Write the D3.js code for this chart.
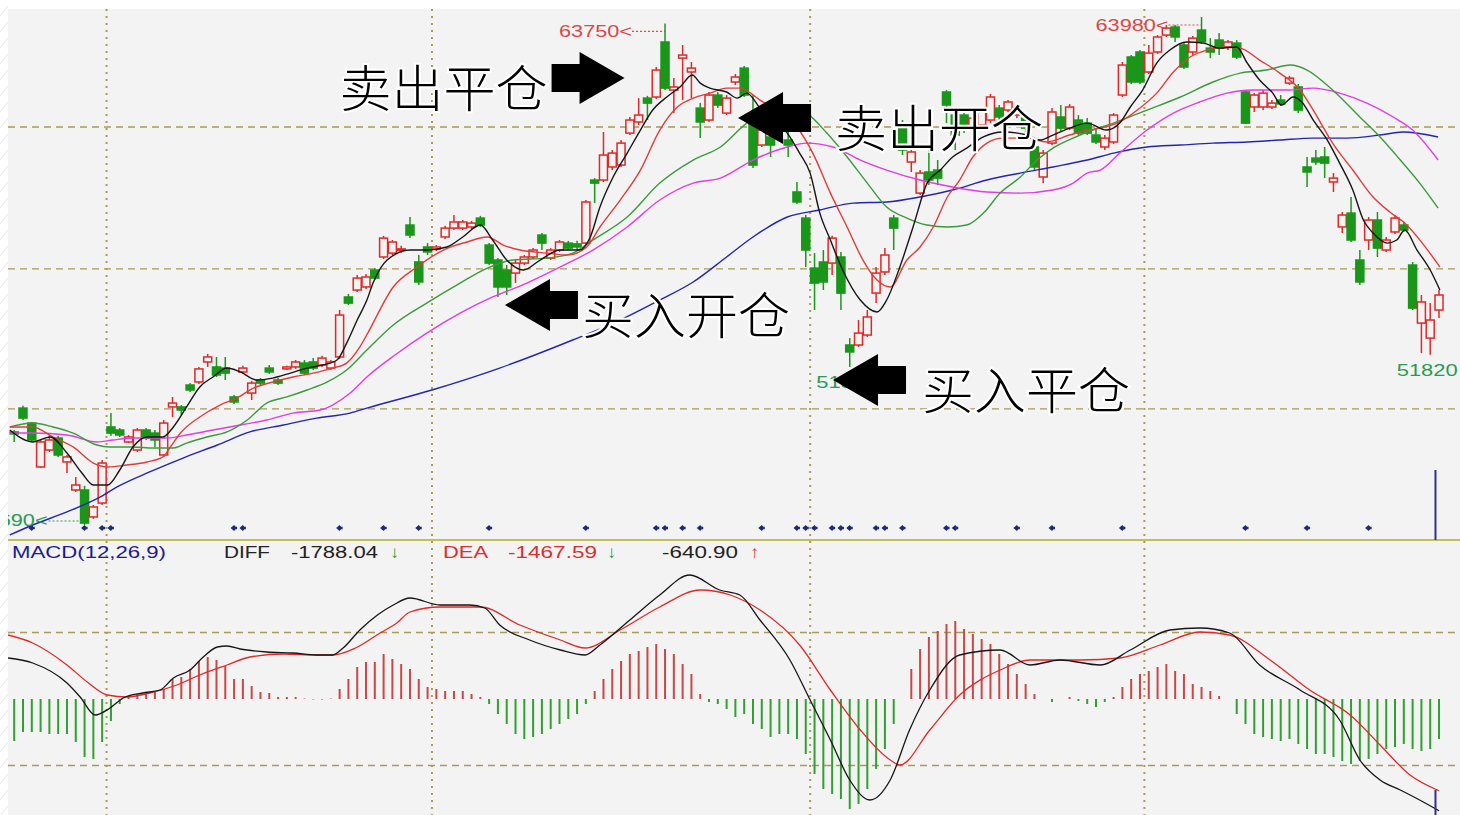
<!DOCTYPE html>
<html><head><meta charset="utf-8">
<script src="https://cdn.jsdelivr.net/npm/d3@7/dist/d3.min.js"></script>
<style>html,body{margin:0;padding:0;background:#fff;overflow:hidden}svg{display:block}</style>
</head><body>
<svg id="c" width="1460" height="815"></svg>
<script>
// ---------------- DATA ----------------
const open = [
49040,49900,49360,47780,48390,48820,47960,46950,46950,45980,
46480,49220,49110,48680,48390,49110,49000,48210,49940,49940,
50730,50840,51560,51380,51340,50300,51200,50440,50910,51340,
50910,51310,51380,51520,51560,51450,51340,51740,53900,54150,
54260,54870,55340,55480,55590,56490,55160,55700,55630,56060,
56380,56380,56420,56740,55770,55230,54870,54760,55120,55340,
56130,55300,55590,55840,55810,55840,58110,58110,58580,58650,
59800,60200,61060,61100,63080,61350,62500,62000,60700,60270,
61170,60520,61640,62140,60450,59370,59660,60270,59550,57680,
56740,54940,55160,55120,55340,52170,52170,52530,54040,54800,
56740,59980,58760,57640,58400,58470,61280,60450,60450,59910,
60090,60270,60700,60630,60450,60340,59300,58220,59440,60380,
59980,60270,60160,59730,59300,59480,61170,62540,62720,62000,
62720,63330,63620,62970,62720,63510,62860,63150,62900,63040,
61280,60740,60740,60740,60990,61600,61460,58580,58900,58940,
58040,56420,56920,55230,55950,56670,55590,56240,56490,55050,
52960,52420,53430];
const close = [
48970,49540,48750,48680,48750,48210,48140,47130,45760,46340,
47920,49000,48930,48860,49110,48820,48750,49360,50080,49830,
50550,51310,51740,51090,51160,50120,51340,50800,50800,51200,
50800,51380,51560,51160,51340,51700,51560,53250,53680,54580,
54620,54580,56020,55880,55630,56130,54440,55520,55700,56380,
56600,56600,56560,56490,55120,54260,54260,55120,55340,55590,
55840,55590,55880,55660,55700,57320,58000,59010,59080,59440,
60270,60450,60880,62070,61420,61460,62610,62140,60200,61170,
60810,61060,61820,61170,58650,59910,59370,59980,59370,57320,
55590,54400,54440,56020,54040,51920,52600,53180,54760,55410,
56380,59190,59120,58360,58110,58180,60810,59730,59910,60340,
60560,61100,60380,60920,60700,59980,58580,59080,60560,59980,
60740,59800,59800,59480,59620,60450,62250,61640,61640,62680,
63260,63580,63260,62180,63220,63080,62720,62860,63080,62540,
60160,61170,61240,60880,60850,61780,60630,58400,58760,58720,
58180,56850,55950,54440,56670,55660,55950,56740,56310,53500,
53720,53070,53970];
const high = [
49110,49980,49400,48750,48930,48900,48210,47420,47100,46410,
48030,49720,49180,48930,49180,49180,49110,49470,50300,50010,
50800,51380,51850,51740,51740,50370,51420,50880,50980,51450,
50980,51420,51630,51630,51700,51780,51630,53430,54010,54690,
54730,54940,56100,55950,55740,56780,55410,55840,55770,56460,
56850,56670,56640,56820,55840,55300,55050,55230,55410,55660,
56200,55660,55950,55920,55920,57390,58180,59840,59190,59550,
60380,61060,61140,62180,63750,61780,62970,62360,60880,61280,
61280,61170,61930,62220,61170,59980,59730,60450,59910,58040,
56850,55480,55590,56100,55520,52420,53070,53430,54980,55660,
56850,60270,59190,58470,59190,58830,61350,60630,60560,60560,
60700,61210,60810,60990,60810,60450,59370,59190,60700,60810,
60850,60450,60340,59980,59730,60520,62360,62610,62790,62970,
63330,63690,63690,63040,63300,63980,63220,63400,63150,63150,
61350,61240,61350,60990,61170,61860,61570,58940,59190,59300,
58360,56960,57500,55590,56780,56960,56060,56850,56600,55160,
53970,53680,54150];
const low = [
48680,49470,48680,47740,48320,48140,47560,46880,45690,45910,
46410,48900,48860,48640,48320,48750,48500,48140,49580,49650,
50480,50770,51380,51020,50910,50050,51130,50190,50730,51130,
50730,51270,51310,51090,51270,51380,51270,51670,53610,54080,
54190,54510,55270,55410,55480,56020,54330,55410,55560,55990,
56310,56310,56350,56420,55050,53900,53970,54400,55050,55270,
55590,55230,55520,55590,55590,55770,57280,58040,58470,58580,
59730,60090,60270,61030,61350,60520,60990,61060,59620,60200,
60700,60450,61530,61100,58540,59300,58940,59840,58940,57250,
54980,53430,54150,54690,53430,51380,52100,52460,53680,54690,
55590,59010,58400,57570,57930,57930,60160,59190,59800,59730,
59980,60160,60270,60560,60340,59840,58470,58000,59370,59840,
59910,59730,59730,59410,59190,59410,61100,61570,61570,61930,
62650,63260,63080,62110,62610,63010,62500,62610,62790,62470,
60130,60560,60630,60670,60780,61530,60520,57860,58650,58180,
57680,56200,55880,54330,55590,55340,55520,56170,56240,53430,
51880,51820,53140];

// moving-average lines: [candle index, price]
const ma5 = [[-0.5,49110],[2.1,48680],[4.1,48860],[6.0,48280],[7.7,47560],[9.0,47130],[10.6,47130],[12.0,47670],[13.5,48500],[15.1,48860],[16.9,48860],[18.1,49220],[19.6,49940],[21.1,50660],[22.6,51020],[24.2,51340],[25.7,51200],[27.6,50910],[29.4,50980],[31.4,51160],[33.3,51340],[35.1,51450],[36.7,51630],[37.8,52240],[39.0,53070],[40.1,53790],[40.8,54400],[42.4,55230],[45.0,55590],[46.9,55590],[49.2,55700],[51.0,56060],[53.0,56490],[54.4,55950],[56.0,55230],[57.9,54870],[59.8,55230],[62.1,55590],[64.3,55590],[65.5,56060],[66.6,57140],[68.1,58220],[69.7,59080],[71.2,59910],[72.6,60630],[74.2,61100],[75.7,61460],[77.1,61890],[78.0,61600],[79.1,61420],[81.0,61280],[82.2,61060],[83.3,61240],[84.8,60700],[87.9,59800],[89.3,59080],[90.5,58360],[91.6,56920],[92.8,55950],[94.2,54870],[96.2,53790],[98.1,53360],[99.2,53790],[100.7,54980],[102.2,56420],[103.8,58000],[105.3,58470],[106.7,58940],[108.3,59260],[110.2,59660],[112.4,59840],[115.2,59730],[116.6,59550],[118.1,59730],[120.0,59980],[122.0,60160],[124.2,59910],[125.7,60160],[126.9,60740],[128.3,61350],[129.9,62320],[131.4,62790],[133.3,63080],[135.2,63040],[137.1,62860],[139.0,62900],[140.2,62320],[141.6,61710],[143.1,61240],[144.1,60810],[145.4,61100],[146.4,60920],[147.7,60270],[149.3,59550],[150.7,58720],[152.2,57750],[153.4,56670],[154.5,56200],[156.1,55840],[157.2,55950],[158.1,56310],[159.5,55590],[161.0,54870],[162.1,54150]];
const ma10 = [[-0.5,49220],[2.1,49220],[4.4,48860],[6.7,48500],[9.0,47920],[10.6,47780],[12.8,47850],[15.1,47960],[16.9,48140],[17.7,48470],[18.9,49000],[21.1,49580],[23.4,50010],[25.3,50260],[27.2,50620],[29.4,50840],[31.7,51020],[34.0,51160],[36.2,51340],[37.8,51520],[39.3,52100],[40.2,52600],[43.1,54260],[45.8,54980],[48.8,55590],[51.5,55880],[53.8,56060],[55.6,55770],[57.5,55590],[60.6,55480],[62.9,55410],[65.1,55700],[66.6,56420],[68.9,57390],[71.2,58470],[73.4,59910],[75.4,60740],[77.2,61060],[79.1,61240],[81.0,61420],[82.5,61420],[84.8,60990],[89.0,60020],[90.8,59080],[92.8,57640],[94.7,56420],[96.5,55230],[98.1,54510],[99.6,54260],[101.5,55230],[103.0,55700],[104.5,56420],[106.1,57500],[107.5,58110],[109.0,58940],[110.6,59440],[112.4,59620],[115.2,59620],[117.4,59480],[120.0,59730],[122.0,59910],[123.5,59980],[125.7,60200],[127.7,60630],[129.9,61240],[131.8,62000],[133.7,62540],[135.6,62790],[137.9,62900],[139.4,62860],[141.6,62430],[143.9,61960],[146.2,61350],[147.7,60630],[149.9,59440],[152.2,58470],[154.5,57500],[156.4,56960],[158.1,56560],[160.1,55840],[162.1,54980]];
const ma20 = [[-0.5,49220],[2.1,49360],[4.4,49220],[6.7,49000],[9.4,48570],[10.9,48500],[13.5,48500],[15.8,48460],[18.1,48460],[19.6,48640],[21.9,48860],[24.2,49040],[26.5,49470],[28.7,50080],[31.0,50300],[33.3,50550],[35.6,50840],[37.8,51270],[40.1,51990],[43.1,52890],[46.9,53680],[50.7,54400],[53.8,54940],[56.7,55230],[60.6,55300],[63.5,55480],[65.8,55950],[69.7,56780],[73.4,58000],[77.2,58830],[80.3,59300],[83.3,60160],[87.9,60740],[90.1,60520],[92.4,59800],[94.7,58940],[97.0,58000],[99.2,57140],[101.5,56740],[103.8,56490],[106.1,56420],[108.3,56490],[110.2,56920],[112.1,57640],[114.4,58220],[116.3,58830],[118.1,59260],[120.4,59620],[122.0,59840],[125.0,60160],[128.8,60630],[132.6,61100],[136.3,61640],[139.4,61960],[142.4,62070],[145.1,62250],[147.0,62070],[149.9,61350],[153.0,60380],[155.3,59660],[157.6,58830],[159.8,58000],[161.9,57100]];
const ma30 = [[-0.5,49000],[2.1,49000],[6.0,48930],[9.4,48680],[11.2,48750],[13.5,48820],[17.4,48820],[19.6,48930],[22.6,49110],[25.7,49290],[28.7,49470],[31.7,49720],[34.8,49830],[36.2,50010],[38.2,50440],[40.1,51020],[43.3,51810],[46.9,52600],[50.7,53320],[54.4,53900],[58.3,54400],[62.1,54980],[65.8,55590],[69.7,56420],[73.4,57390],[77.2,58000],[80.3,58180],[84.0,58830],[87.9,59300],[90.1,59440],[93.1,59300],[96.2,58830],[99.2,58470],[103.0,58110],[106.7,57860],[110.6,57680],[114.4,57640],[118.1,57750],[120.4,58000],[122.0,58360],[123.5,58470],[125.7,59080],[128.8,59910],[131.8,60520],[134.8,60920],[137.9,61240],[140.9,61350],[144.7,61350],[147.7,61420],[150.7,61240],[153.8,60880],[156.8,60380],[159.0,59910],[161.9,58830]];
const ma60 = [[-0.5,45330],[2.1,45690],[6.0,46160],[9.8,46700],[11.7,47060],[15.4,47600],[19.2,48100],[23.1,48570],[26.8,49040],[30.6,49290],[34.4,49540],[38.2,49720],[40.1,49900],[47.5,50550],[55.2,51340],[63.5,52350],[68.9,53070],[73.4,53790],[77.2,54440],[81.0,55340],[84.0,56060],[87.9,56780],[91.6,57030],[95.4,57280],[99.2,57320],[103.0,57500],[106.7,57750],[110.6,58110],[114.4,58360],[118.1,58580],[122.0,58830],[125.0,59080],[128.8,59300],[132.6,59370],[136.3,59440],[140.2,59480],[143.9,59550],[147.7,59620],[151.5,59620],[155.3,59730],[157.9,59840],[161.9,59660]];

// MACD lines: [candle index, value]
const diffLine = [[-0.7,656],[2.1,576],[6.0,256],[7.5,32],[9.2,-256],[10.9,-144],[12.4,16],[14.6,96],[16.6,144],[18.1,336],[20.0,464],[21.5,672],[23.1,832],[24.2,848],[25.7,800],[28.7,752],[31.7,736],[34.4,704],[36.2,704],[37.4,816],[39.3,1104],[41.3,1344],[43.1,1504],[45.0,1616],[48.4,1504],[51.8,1504],[53.5,1456],[55.2,1184],[58.6,944],[62.1,784],[64.9,704],[66.6,864],[70.0,1264],[73.4,1664],[76.8,1984],[80.2,1744],[82.5,1664],[84.8,1264],[88.2,624],[90.5,-16],[92.8,-656],[95.0,-1296],[97.3,-1616],[99.6,-1296],[101.8,-496],[104.1,144],[107.5,704],[112.1,784],[115.5,544],[118.9,624],[123.5,544],[126.9,784],[131.4,1104],[134.8,1136],[138.2,1056],[141.6,544],[146.2,144],[150.7,-336],[153.0,-976],[155.3,-1296],[157.6,-1456],[159.8,-1616],[162,-1788]];
const deaLine = [[-0.7,1024],[2.1,896],[6.0,544],[8.3,272],[10.6,64],[12.8,32],[15.4,96],[18.5,224],[21.1,384],[24.2,544],[26.8,672],[30.6,720],[34.4,704],[36.2,704],[38.8,816],[41.6,1056],[43.5,1216],[45.0,1392],[48.4,1472],[53.0,1472],[57.5,1184],[62.1,944],[64.9,816],[68.9,1104],[73.4,1472],[78.0,1744],[81.4,1664],[84.8,1424],[89.3,864],[92.8,144],[96.2,-496],[99.6,-976],[100.7,-1056],[104.1,-496],[107.5,64],[112.1,464],[115.5,624],[121.2,624],[125.7,656],[130.3,864],[134.8,1072],[138.2,1024],[142.8,624],[147.3,144],[151.9,-256],[155.3,-736],[158.7,-1216],[162,-1468]];
const macdHist = [
-672,-528,-528,-528,-560,-560,-560,-688,-928,-960,
-688,-352,-80,48,80,96,112,160,320,352,
480,608,672,624,528,320,320,208,112,96,
32,32,32,8,-8,-8,8,160,320,512,
592,592,720,640,560,480,320,192,160,128,
128,128,80,32,-80,-240,-400,-560,-640,-608,
-560,-480,-400,-320,-240,-80,128,320,480,608,
720,768,832,880,800,720,560,400,80,-48,
-80,-160,-288,-240,-400,-480,-608,-560,-560,-640,
-880,-1200,-1440,-1520,-1600,-1760,-1680,-1440,-1120,-800,
-400,0,480,800,992,1088,1200,1248,1120,1040,
960,880,720,560,400,240,80,0,-48,0,
32,-32,-80,-128,-48,32,192,320,400,448,
512,560,448,400,240,192,128,48,0,-240,
-400,-560,-608,-640,-672,-640,-720,-800,-880,-880,
-928,-992,-1040,-992,-960,-880,-800,-768,-720,-800,
-832,-800,-641];

const signalIdx = [2,8,10,11,25,26,37,42,46,54,65,73,74,76,78,85,89,90,91,93,94,95,98,99,101,106,107,114,118,126,140,147,154];
const monthBreaks = [10.5,47.5,90.5,128.5];
const priceGrid = [49870,54910,60020];
const macdGrid = [-1064,1064];
const highMarks = [74,135];
const lowMarks = [8,95,161];
const headerTexts = ["MACD(12,26,9)","DIFF","-1788.04","↓","DEA","-1467.59","↓","-640.90","↑"];
const annotations = [
  {label:"卖出平仓", i:69.4, p:61780, dir:"right"},
  {label:"卖出开仓", i:82.3, p:60340, dir:"left"},
  {label:"买入开仓", i:55.8, p:53610, dir:"left"},
  {label:"买入平仓", i:93.1, p:50910, dir:"left"}
];

// ---------------- DRAW ----------------
const svg = d3.select("#c");
const W=1460, H=815;
const L=8, R=1460, TOP=9, PB=540, MT=565;
const x = d3.scaleLinear().domain([0,162]).range([14.2,1439]);
const y = d3.scaleLinear().domain([45690,63980]).range([525,17]);
const ym = d3.scaleLinear().domain([-1600,1600]).range([799,599]);

const GRID="#a89a58", RED="#e02828", GREEN="#1a961a", BG="#f3f3f3";

svg.append("rect").attr("width",W).attr("height",H).attr("fill","#fff");
const deco = svg.append("g").attr("stroke","#e6e6e6").attr("stroke-width",1);
for(let k=0;k<60;k++){ deco.append("line").attr("x1",0).attr("y1",k*16).attr("x2",8).attr("y2",k*16-10); }
svg.append("rect").attr("x",L).attr("y",TOP).attr("width",R-L).attr("height",H-TOP).attr("fill",BG);

const defs = svg.append("defs");
defs.append("clipPath").attr("id","cp").append("rect").attr("x",L).attr("y",TOP).attr("width",R-L).attr("height",PB-TOP);
defs.append("clipPath").attr("id","cm").append("rect").attr("x",L).attr("y",MT).attr("width",R-L).attr("height",H-MT);

// grid
const gg = svg.append("g");
gg.selectAll("line.h").data(priceGrid).join("line")
  .attr("x1",L).attr("x2",R).attr("y1",d=>y(d)).attr("y2",d=>y(d))
  .attr("stroke",GRID).attr("stroke-width",1.3).attr("stroke-dasharray","7,5");
gg.selectAll("line.m").data(macdGrid).join("line")
  .attr("x1",L).attr("x2",R).attr("y1",d=>ym(d)).attr("y2",d=>ym(d))
  .attr("stroke",GRID).attr("stroke-width",1.3).attr("stroke-dasharray","7,5");
gg.selectAll("line.v").data(monthBreaks).join("line")
  .attr("x1",d=>x(d)).attr("x2",d=>x(d)).attr("y1",TOP).attr("y2",H)
  .attr("stroke",GRID).attr("stroke-width",2).attr("stroke-dasharray","2,5");
svg.append("line").attr("x1",L).attr("x2",R).attr("y1",PB).attr("y2",PB).attr("stroke","#c2c05a").attr("stroke-width",2);

// price panel
const pg = svg.append("g").attr("clip-path","url(#cp)");
const candles = d3.range(open.length).map(i=>({i,o:open[i],c:close[i],h:high[i],l:low[i]}));
const bw = 8;
const cg = pg.append("g");
cg.selectAll("line.w").data(candles).join("line")
  .attr("x1",d=>x(d.i)).attr("x2",d=>x(d.i)).attr("y1",d=>y(d.h)).attr("y2",d=>y(d.l))
  .attr("stroke",d=>d.c>=d.o?RED:GREEN).attr("stroke-width",1.5);
cg.selectAll("rect").data(candles).join("rect")
  .attr("x",d=>x(d.i)-bw/2).attr("width",bw)
  .attr("y",d=>y(Math.max(d.o,d.c))).attr("height",d=>Math.max(1.5,Math.abs(y(d.o)-y(d.c))))
  .attr("fill",d=>d.c>=d.o?BG:GREEN).attr("stroke",d=>d.c>=d.o?RED:GREEN).attr("stroke-width",1.5);

const line = d3.line().x(d=>x(d[0])).y(d=>y(d[1])).curve(d3.curveMonotoneX);
[[ma60,"#2424b4"],[ma30,"#e23ce2"],[ma20,"#3c9a3c"],[ma10,"#e03c3c"],[ma5,"#161616"]].forEach(([s,c])=>{
  pg.append("path").attr("d",line(s)).attr("fill","none").attr("stroke",c).attr("stroke-width",1.4);
});

pg.selectAll("path.sig").data(signalIdx).join("path")
  .attr("transform",d=>`translate(${x(d)},528)`)
  .attr("d","M-3.5,0L0,-3L1.5,-1.2L3,-1.2L3,1.2L1.5,1.2L0,3Z").attr("fill","#1c2a78");

const lab = pg.append("g").attr("font-family","Liberation Sans, Arial, sans-serif").attr("font-size",17);
highMarks.forEach(i=>{
  const xx=x(i), yy=y(high[i])+8;
  lab.append("line").attr("x1",xx-33).attr("x2",xx).attr("y1",yy).attr("y2",yy)
    .attr("stroke","#d84848").attr("stroke-width",1.2).attr("stroke-dasharray","2,2");
  lab.append("text").attr("x",xx-106).attr("y",yy+6).attr("textLength",73).attr("lengthAdjust","spacingAndGlyphs")
    .attr("fill","#d84848").text(high[i]+"<");
});
lowMarks.forEach(i=>{
  const xx=x(i), yy=y(low[i]);
  if(i===lowMarks[0]){
    lab.append("line").attr("x1",xx-36).attr("x2",xx).attr("y1",yy-4).attr("y2",yy-4)
      .attr("stroke","#2a9a55").attr("stroke-width",1.2).attr("stroke-dasharray","2,2");
    lab.append("text").attr("x",xx-110).attr("y",yy+1).attr("textLength",73).attr("lengthAdjust","spacingAndGlyphs")
      .attr("fill","#2a9a55").text(low[i]+"<");
  } else {
    lab.append("text").attr("x",xx-3).attr("y",yy+21).attr("text-anchor","middle").attr("textLength",61).attr("lengthAdjust","spacingAndGlyphs")
      .attr("fill","#2a9a55").text(low[i]);
  }
});
svg.append("line").attr("x1",x(161.6)).attr("x2",x(161.6)).attr("y1",470).attr("y2",PB).attr("stroke","#303088").attr("stroke-width",2);

// MACD panel
const mg = svg.append("g").attr("clip-path","url(#cm)");
mg.selectAll("line.b").data(macdHist).join("line")
  .attr("x1",(d,i)=>x(i)).attr("x2",(d,i)=>x(i)).attr("y1",ym(0)).attr("y2",d=>ym(d))
  .attr("stroke",d=>d>=0?"#c84848":"#30a030").attr("stroke-width",2);
const mline = d3.line().x(d=>x(d[0])).y(d=>ym(d[1])).curve(d3.curveMonotoneX);
mg.append("path").attr("d",mline(deaLine)).attr("fill","none").attr("stroke","#e02828").attr("stroke-width",1.3);
mg.append("path").attr("d",mline(diffLine)).attr("fill","none").attr("stroke","#161616").attr("stroke-width",1.3);
svg.append("line").attr("x1",x(161.6)).attr("x2",x(161.6)).attr("y1",790).attr("y2",H).attr("stroke","#303088").attr("stroke-width",2);

const hdrPos = [[12,154,"#1c1c8c"],[224,46,"#222"],[291,87,"#222"],[390,9,"#2a9a2a"],[443,45,"#d83030"],[508,89,"#d83030"],[607,9,"#2a9a2a"],[662,76,"#222"],[750,9,"#d83030"]];
const hg = svg.append("g").attr("font-family","Liberation Sans, Arial, sans-serif").attr("font-size",17);
headerTexts.forEach((t,k)=>{
  hg.append("text").attr("x",hdrPos[k][0]).attr("y",558).attr("textLength",hdrPos[k][1]).attr("lengthAdjust","spacingAndGlyphs")
    .attr("fill",hdrPos[k][2]).text(t);
});

const ag = svg.append("g");
annotations.forEach(a=>{
  const tx=x(a.i), ty=y(a.p), s = a.dir==="right"?-1:1;
  const pts=[[0,0],[45,-26],[45,-14],[73,-14],[73,14],[45,14],[45,26]].map(([dx,dy])=>[tx+s*dx,ty+dy]);
  ag.append("path").attr("d","M"+pts.map(p=>p.join(",")).join("L")+"Z").attr("fill","#000");
  const off = a.dir==="right"?77:(a.label==="卖出开仓"?97:(a.label==="买入平仓"?89:77));
  ag.append("text").attr("x",tx+s*off).attr("y",ty+29)
    .attr("text-anchor",a.dir==="right"?"end":"start")
    .attr("font-family","Noto Sans CJK SC, sans-serif").attr("font-size",50).attr("font-weight",300)
    .attr("textLength",208).attr("lengthAdjust","spacingAndGlyphs")
    .attr("fill","#000").attr("stroke","#fff").attr("stroke-width",4).attr("paint-order","stroke")
    .text(a.label);
});
</script>
</body></html>
